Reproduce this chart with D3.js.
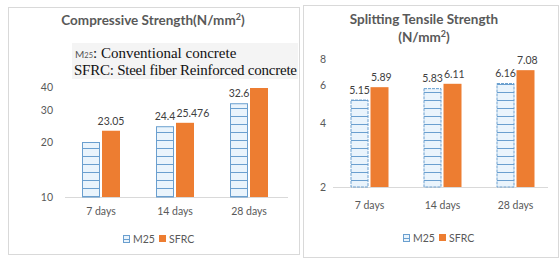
<!DOCTYPE html>
<html>
<head>
<meta charset="utf-8">
<script src="https://cdn.jsdelivr.net/npm/d3@7"></script>
<style>
  body { margin: 0; background: #fff; }
  svg text { font-family: Lato, "Open Sans", sans-serif; }
</style>
</head>
<body>
<div id="chart"></div>
<script>
// categories and series
const days = ["7 days", "14 days", "28 days"];
const series = ["M25", "SFRC"];

// compressive strength (N/mm2)
const compM25 = [20.0, 24.4, 32.6];
const compSFRC = [23.05, 25.476, 39.5];
const compLabelsM25 = [null, "24.4", "32.6"];
const compLabelsSFRC = ["23.05", "25.476", null];
const compTicks = [10, 20, 30, 40];

// splitting tensile strength (N/mm2)
const tensM25 = [5.15, 5.83, 6.16];
const tensSFRC = [5.89, 6.11, 7.08];
const tensLabelsM25 = ["5.15", "5.83", "6.16"];
const tensLabelsSFRC = ["5.89", "6.11", "7.08"];
const tensTicks = [2, 4, 6, 8];

const W = 560, H = 260;
const orange = "#ed7d31", grey = "#595959";

const svg = d3.select("#chart").append("svg")
    .attr("width", W)
    .attr("height", H);

// striped fill for the M25 bars
const defs = svg.append("defs");
const pat = defs.append("pattern")
    .attr("id", "stripes")
    .attr("patternUnits", "userSpaceOnUse")
    .attr("width", 8)
    .attr("height", 8);
pat.append("rect").attr("width", 8).attr("height", 8).attr("fill", "#eaf4fc");
pat.append("line")
    .attr("x1", 0).attr("x2", 8).attr("y1", 4.5).attr("y2", 4.5)
    .attr("stroke", "#6a9fcf").attr("stroke-width", 1);

function drawChart(opt) {
    // panel border
    svg.append("rect")
        .attr("x", opt.box[0] + 0.5).attr("y", opt.box[1] + 0.5)
        .attr("width", opt.box[2]).attr("height", opt.box[3])
        .attr("fill", "none").attr("stroke", "#d9d9d9");

    const g = svg.append("g");

    const x0 = d3.scaleBand().domain(days).range(opt.xRange);
    const x1 = d3.scaleBand().domain(series).range([-19, 19]).paddingInner(0.1);
    const y = d3.scaleLog().domain(opt.yDomain).range(opt.yRange);

    // y tick labels (no axis line)
    g.selectAll(".ytick").data(opt.ticks).enter().append("text")
        .attr("x", opt.tickX)
        .attr("y", d => y(d) + 4)
        .attr("text-anchor", "end")
        .attr("font-size", 10.5)
        .attr("fill", grey)
        .text(d => d);

    // baseline
    g.append("line")
        .attr("x1", opt.axisX[0]).attr("x2", opt.axisX[1])
        .attr("y1", y(opt.yDomain[0]) + 0.5).attr("y2", y(opt.yDomain[0]) + 0.5)
        .attr("stroke", "#d9d9d9");

    const rows = days.map((d, i) => ({
        day: d,
        vals: [
            {s: "M25", v: opt.m25[i], lab: opt.labM25[i]},
            {s: "SFRC", v: opt.sfrc[i], lab: opt.labSFRC[i]}
        ]
    }));

    const grp = g.selectAll(".grp").data(rows).enter().append("g")
        .attr("transform", d => "translate(" + (x0(d.day) + x0.bandwidth() / 2) + ",0)");

    grp.selectAll("rect").data(d => d.vals).enter().append("rect")
        .attr("x", d => x1(d.s) + (d.s === "M25" ? 0.5 : 0))
        .attr("y", d => y(d.v) + (d.s === "M25" ? 0.5 : 0))
        .attr("width", d => x1.bandwidth() - (d.s === "M25" ? 1 : 0))
        .attr("height", d => y(opt.yDomain[0]) - y(d.v) - (d.s === "M25" ? 0.5 : 0))
        .attr("fill", d => d.s === "M25" ? "url(#stripes)" : orange)
        .attr("stroke", d => d.s === "M25" ? "#6a9fcf" : "none")
        .attr("stroke-dasharray", opt.dashed ? "3,1" : null);

    // value labels; push the SFRC label right when it runs into the M25 one
    grp.each(function () {
        const gg = d3.select(this);
        let lastRight = -Infinity;
        gg.selectAll(".lab").data(d => d.vals.filter(v => v.lab)).enter().append("text")
            .attr("class", "lab")
            .attr("x", d => x1(d.s) + x1.bandwidth() / 2)
            .attr("y", d => y(d.v) - 6)
            .attr("text-anchor", "middle")
            .attr("font-size", 10.5)
            .attr("fill", "#404040")
            .text(d => d.lab)
            .each(function () {
                const b = this.getBBox();
                if (b.x < lastRight + 1) {
                    d3.select(this).attr("x", +d3.select(this).attr("x") + (lastRight + 1 - b.x));
                }
                lastRight = this.getBBox().x + this.getBBox().width;
            });
    });

    // category labels
    g.selectAll(".cat").data(days).enter().append("text")
        .attr("x", d => x0(d) + x0.bandwidth() / 2)
        .attr("y", opt.catY)
        .attr("text-anchor", "middle")
        .attr("font-size", 10.5)
        .attr("fill", grey)
        .text(d => d);

    // titles
    opt.title.forEach((t, i) => {
        const tt = g.append("text")
            .attr("x", opt.titleX)
            .attr("y", opt.titleY + i * 18)
            .attr("text-anchor", "middle")
            .attr("font-size", 13.5)
            .attr("font-weight", "bold")
            .attr("fill", grey);
        tt.append("tspan").text(t);
        if (i === opt.title.length - 1) {
            tt.append("tspan").attr("font-size", 9).attr("dy", -5).text("2");
            tt.append("tspan").attr("dy", 5).text(")");
        }
    });

    // legend
    const leg = g.append("g").attr("transform", "translate(" + opt.legX + "," + opt.legY + ")");
    leg.append("rect").attr("x", 0.5).attr("y", -7.5).attr("width", 6).attr("height", 7)
        .attr("fill", "url(#stripes)").attr("stroke", "#6a9fcf");
    leg.append("text").attr("x", 10).attr("y", 0).attr("font-size", 10.5).attr("fill", grey).text("M25");
    leg.append("rect").attr("x", 36).attr("y", -8).attr("width", 7).attr("height", 7).attr("fill", orange);
    leg.append("text").attr("x", 46).attr("y", 0).attr("font-size", 10.5).attr("fill", grey).text("SFRC");
}

drawChart({
    box: [8, 7, 291, 247],
    xRange: [64, 286],
    axisX: [65, 288],
    yDomain: [10, 50],
    yRange: [197, 69.3],
    ticks: compTicks,
    tickX: 53,
    m25: compM25, sfrc: compSFRC,
    labM25: compLabelsM25, labSFRC: compLabelsSFRC,
    catY: 215,
    title: ["Compressive Strength(N/mm"],
    titleX: 153, titleY: 25,
    legX: 123, legY: 243,
    dashed: false
});

drawChart({
    box: [303, 5, 255, 252],
    xRange: [333, 552],
    axisX: [333, 548],
    yDomain: [2, 9],
    yRange: [187, 48],
    ticks: tensTicks,
    tickX: 326,
    m25: tensM25, sfrc: tensSFRC,
    labM25: tensLabelsM25, labSFRC: tensLabelsSFRC,
    catY: 209,
    title: ["Splitting Tensile Strength", "(N/mm"],
    titleX: 424, titleY: 24,
    legX: 403, legY: 242,
    dashed: true
});

// note box on the compressive chart
const serif = "'Liberation Serif', 'Times New Roman', serif";
const note = svg.append("g");
note.append("rect")
    .attr("x", 72).attr("y", 43).attr("width", 226).attr("height", 36)
    .attr("fill", "#f4f4f4");
const l1 = note.append("text")
    .attr("x", 75).attr("y", 58)
    .style("font-family", serif)
    .attr("font-size", 15).attr("fill", "#111");
l1.append("tspan").attr("font-size", 10).style("font-family", "Lato, sans-serif").attr("fill", "#555").text("M");
l1.append("tspan").attr("font-size", 7.5).style("font-family", "Lato, sans-serif").attr("fill", "#555").text("25");
l1.append("tspan").text(": Conventional concrete");
note.append("text")
    .attr("x", 74).attr("y", 75)
    .style("font-family", serif)
    .attr("font-size", 15).attr("fill", "#111")
    .attr("textLength", 223)
    .text("SFRC: Steel fiber Reinforced concrete");
</script>
</body>
</html>
